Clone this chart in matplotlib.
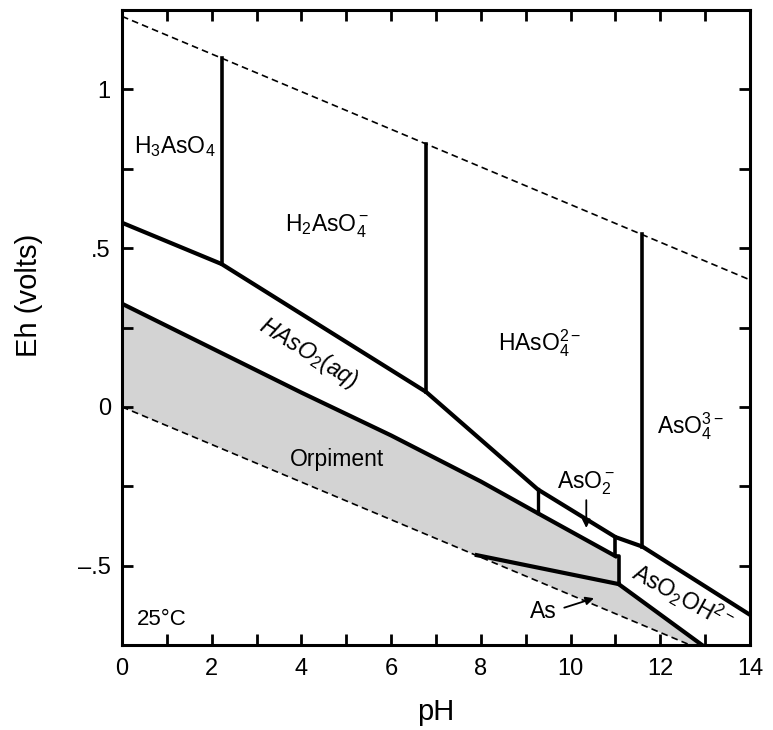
import matplotlib
matplotlib.use("Agg")
import matplotlib.pyplot as plt
from matplotlib.ticker import FixedLocator
import numpy as np

plt.rcParams['font.family'] = ['Liberation Sans', 'DejaVu Sans']
plt.rcParams['mathtext.fontset'] = 'custom'
plt.rcParams['mathtext.rm'] = 'Liberation Sans'
plt.rcParams['mathtext.it'] = 'Liberation Sans:italic'

# ---- data (pH, Eh in volts) ----
water_ph = [0, 14]
water_upper_eh = [1.23, 0.40]
water_lower_eh = [0.0, -0.829]

# As(V)/As(III) boundary
redox_ph = [0, 2.22, 6.78, 9.27, 11.0, 11.6, 14]
redox_eh = [0.58, 0.45, 0.047, -0.26, -0.41, -0.44, -0.655]

# As(V) species verticals (pH, bottom Eh, top Eh)
v_ph = [2.22, 6.78, 11.6]
v_bot = [0.45, 0.047, -0.44]
v_top = [1.098, 0.829, 0.543]

# orpiment upper boundary
orp_ph = [0, 2.0, 4.0, 6.0, 8.0, 9.27, 11.0]
orp_eh = [0.325, 0.185, 0.045, -0.09, -0.235, -0.335, -0.47]

# As(III) verticals
v2_ph = [9.27, 9.27]
v2_eh = [-0.26, -0.335]
step_ph = [11.0, 11.0, 11.07, 11.07]
step_eh = [-0.41, -0.47, -0.47, -0.558]

# As / orpiment boundary
as_ph = [7.91, 11.07]
as_eh = [-0.467, -0.558]

# AsO2OH2- / As boundary
low_ph = [11.07, 12.93]
low_eh = [-0.558, -0.75]

fig = plt.figure(figsize=(7.73, 7.30), dpi=100)
ax = fig.add_axes([0.1578, 0.1164, 0.8125, 0.8699])
ax.set_xlim(0, 14)
ax.set_ylim(-0.75, 1.25)

# gray fill: orpiment + As region
poly_x = list(orp_ph) + [11.07, 11.07, 12.93, 12.67, 0]
poly_y = list(orp_eh) + [-0.47, -0.558, -0.75, -0.75, 0.0]
ax.fill(poly_x, poly_y, color='#d3d3d3', lw=0, zorder=1)

lw = 3.0
ax.plot(water_ph, water_upper_eh, ls=(0, (4, 2.5)), color='black', lw=1.2, zorder=2)
ax.plot(water_ph, water_lower_eh, ls=(0, (4, 2.5)), color='black', lw=1.2, zorder=2)
ax.plot(redox_ph, redox_eh, color='black', lw=lw, zorder=3, solid_joinstyle='miter')
for p, b, t in zip(v_ph, v_bot, v_top):
    ax.plot([p, p], [b, t], color='black', lw=2.6, zorder=3)
ax.plot(orp_ph, orp_eh, color='black', lw=lw, zorder=3)
ax.plot(v2_ph, v2_eh, color='black', lw=2.4, zorder=3)
ax.plot(step_ph, step_eh, color='black', lw=2.6, zorder=3)
ax.plot(as_ph, as_eh, color='black', lw=lw, zorder=3)
ax.plot(low_ph, low_eh, color='black', lw=lw, zorder=3)

fs = 16.5
ax.text(1.18, 0.82, r'$\mathregular{H_3AsO_4}$', fontsize=fs, ha='center', va='center')
ax.text(4.57, 0.57, r'$\mathregular{H_2AsO_4^-}$', fontsize=fs, ha='center', va='center')
ax.text(9.3, 0.2, r'$\mathregular{HAsO_4^{2-}}$', fontsize=fs, ha='center', va='center')
ax.text(12.66, -0.06, r'$\mathregular{AsO_4^{3-}}$', fontsize=fs, ha='center', va='center')
ax.text(4.15, 0.17, r'$\mathit{HAsO_2(aq)}$', fontsize=fs, ha='center', va='center',
        rotation=-32, rotation_mode='anchor')
ax.text(4.8, -0.165, 'Orpiment', fontsize=fs, ha='center', va='center')
ax.text(10.35, -0.24, r'$\mathregular{AsO_2^-}$', fontsize=fs, ha='center', va='center')
ax.annotate('', xy=(10.35, -0.39), xytext=(10.35, -0.285),
            arrowprops=dict(arrowstyle='-|>', color='black', lw=1.3, mutation_scale=12))
ax.text(12.5, -0.6, r'$\mathregular{AsO_2OH^{2-}}$', fontsize=fs, ha='center', va='center',
        rotation=-29, rotation_mode='anchor')
ax.text(9.4, -0.645, 'As', fontsize=fs, ha='center', va='center')
ax.annotate('', xy=(10.58, -0.6), xytext=(9.8, -0.635),
            arrowprops=dict(arrowstyle='-|>', color='black', lw=1.3, mutation_scale=12))
ax.text(0.33, -0.67, '25°C', fontsize=16, ha='left', va='center')

# axes styling
for s in ax.spines.values():
    s.set_linewidth(2.2)
ax.xaxis.set_major_locator(FixedLocator([0, 2, 4, 6, 8, 10, 12, 14]))
ax.xaxis.set_minor_locator(FixedLocator([1, 3, 5, 7, 9, 11, 13]))
ax.yaxis.set_major_locator(FixedLocator([-0.5, 0, 0.5, 1]))
ax.yaxis.set_minor_locator(FixedLocator([-0.25, 0.25, 0.75]))
ax.set_yticklabels(['\u2013.5', '0', '.5', '1'])
ax.tick_params(which='both', direction='in', length=8, width=2, top=True, right=True)
ax.tick_params(axis='x', which='major', labelsize=17, pad=9)
ax.tick_params(axis='y', which='major', labelsize=17, pad=8)
ax.set_xlabel('pH', fontsize=21)
ax.set_ylabel('Eh (volts)', fontsize=21)
ax.xaxis.set_label_coords(0.5, -0.083)
ax.yaxis.set_label_coords(-0.125, 0.55)

fig.savefig('out.png', dpi=100)
